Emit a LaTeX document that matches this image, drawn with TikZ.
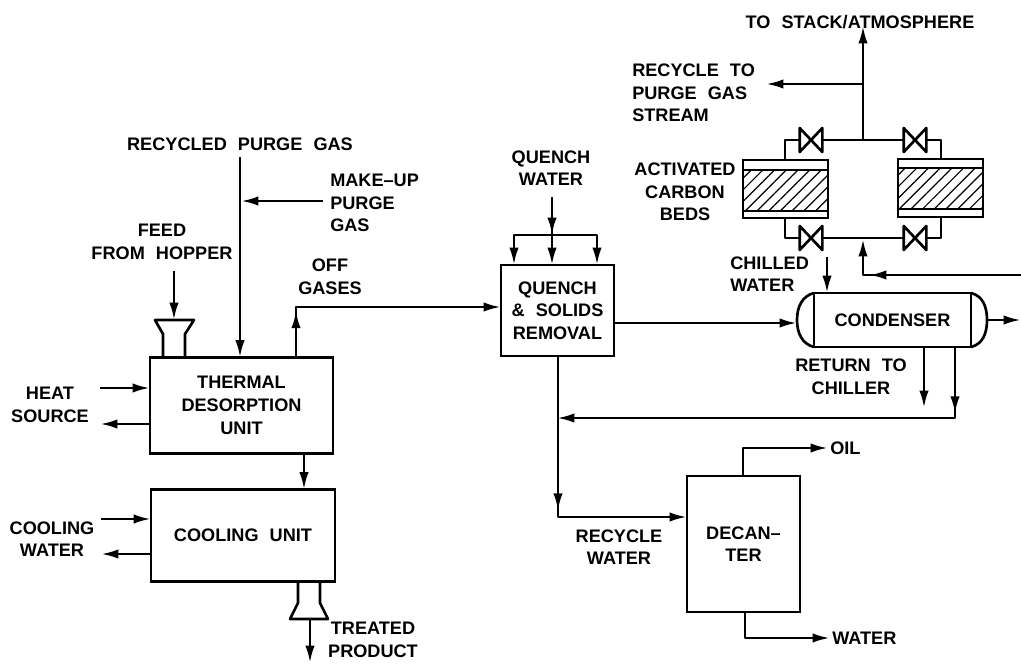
\documentclass[tikz,border=0pt]{standalone}
\usepackage{fontspec}
\setmainfont[WordSpace=2.2]{Liberation Sans}
\usetikzlibrary{arrows.meta,decorations.markings,patterns.meta,calc}
\tikzset{
  Hd/.tip={Latex[length=13pt,width=7pt]},
  pipe/.style={line width=2pt,line join=round},
  flow/.style={pipe,-{Hd}},
  hdat/.style={postaction={decorate,decoration={markings,mark=at position #1 with {\arrow{Hd}}}}},
  unit/.style n args={2}{draw,line width=2pt,inner sep=0pt,outer sep=0pt,minimum width=#1*0.75pt,minimum height=#2*0.75pt},
  valve/.style={inner sep=0pt,outer sep=0pt,minimum width=17pt,minimum height=18pt},
  hatch/.style={pattern={Lines[angle=45,distance=6.2pt,line width=0.9pt]}},
  lbl/.style={font=\fontsize{13.6}{17}\selectfont\bfseries,inner sep=0pt,align=center},
  lbll/.style={lbl,align=left,anchor=west},
}
\begin{document}
\begin{tikzpicture}[x=0.75pt,y=-0.75pt]
\useasboundingbox (0,0) rectangle (1021,664);
% process units
\node[unit={183}{96},lbl] (tdu) at (241.5,405.5) {THERMAL\\DESORPTION\\UNIT};
\node[unit={184}{92},lbl] (cool) at (243,535.5) {COOLING UNIT};
\node[unit={113}{91},lbl] (qsr) at (557.5,310.5) {QUENCH\\\& SOLIDS\\REMOVAL};
\node[unit={157}{54},lbl] (cond) at (892.5,320) {CONDENSER};
\node[unit={113}{136},lbl] (dec) at (743.5,544) {DECAN--\\TER};
\node[unit={85}{58}] (bedA) at (785.5,189) {};
\node[unit={85}{41},hatch] (bedAi) at (785.5,190.5) {};
\node[unit={85}{58}] (bedB) at (940.5,188) {};
\node[unit={85}{41},hatch] (bedBi) at (940.5,188.5) {};
\node[valve] (v1) at (811,140) {};
\node[valve] (v2) at (915,140) {};
\node[valve] (v3) at (811,238) {};
\node[valve] (v4) at (915,238) {};
\foreach \v in {v1,v2,v3,v4}
  \draw[pipe] (\v.north west)--(\v.south east)--(\v.north east)--(\v.south west)--cycle;
% condenser heads
\coordinate (lh) at (797,320);
\coordinate (rh) at (987,320);
\draw[pipe] (cond.north west) .. controls +(-12,3) and +(0,-13) .. (lh) .. controls +(0,13) and +(-12,-3) .. (cond.south west);
\draw[pipe] (cond.north east) .. controls +(12,3) and +(0,-13) .. (rh) .. controls +(0,13) and +(12,-3) .. (cond.south east);
% free ends
\coordinate (feedS) at (174,271);
\coordinate (rpgS) at (240,157);
\coordinate (muS) at (323,201);
\coordinate (muJ) at (241,201);
\coordinate (offC) at (296,307);
\coordinate (hiS) at (100,388);
\coordinate (hoE) at (100,424);
\coordinate (ciS) at (101,519);
\coordinate (coE) at (101,554);
\coordinate (tc) at (304,400);
\coordinate (qwS) at (552,197);
\coordinate (qwJ) at (552,235);
\coordinate (qwL) at (514,235);
\coordinate (qwR) at (597,235);
\coordinate (stackE) at (863,26);
\coordinate (stackJ) at (863,84);
\coordinate (rcE) at (766,84);
\coordinate (topJ) at (863,140);
\coordinate (botJ) at (863,239);
\coordinate (botC) at (863,275);
\coordinate (rightIn) at (1021,275);
\coordinate (chS) at (827,257);
\coordinate (rtE) at (924,408);
\coordinate (retC) at (955,418);
\coordinate (retE) at (557,418);
\coordinate (rwC) at (558,517);
\coordinate (oilC) at (743,448);
\coordinate (oilE) at (828,448);
\coordinate (watC) at (745,638);
\coordinate (watE) at (830,638);
\coordinate (condOut) at (1021,320);
% hopper
\coordinate (hopTL) at (155,320);
\coordinate (hopTR) at (194,320);
\draw[pipe] (163,357) -- (163,334) -- (hopTL) -- (hopTR) -- (185,334) -- (185,357);
% discharge
\coordinate (disL) at (290,619);
\coordinate (disR) at (328,619);
\coordinate (disC) at (310,619);
\draw[pipe] (298,581) -- (298,603) -- (disL) -- (disR) -- (320,603) -- (320,581);
\coordinate (prodE) at (310,663);
% connectors
\draw[flow] (feedS) -- (hopTL -| feedS);
\draw[flow] (rpgS) -- (rpgS |- tdu.north);
\draw[flow] (muS) -- (muJ);
\draw[flow,hdat=35pt] (offC |- tdu.north) -- (offC) -- (qsr.west |- offC);
\draw[flow] (hiS) -- (hiS -| tdu.west);
\draw[flow] (hoE -| tdu.west) -- (hoE);
\draw[flow] (tc |- tdu.south) -- (tc |- cool.north);
\draw[flow] (ciS) -- (ciS -| cool.west);
\draw[flow] (coE -| cool.west) -- (coE);
\draw[flow] (disC) -- (prodE);
\draw[flow,hdat=28.5pt] (qwS) -- (qwS |- qsr.north);
\draw[flow] (qwJ) -- (qwL) -- (qwL |- qsr.north);
\draw[flow] (qwJ) -- (qwR) -- (qwR |- qsr.north);
\draw[flow] (qsr.east |- cond.center) ++(0,3) -- (797,323);
\draw[flow] (chS) -- (chS |- cond.north);
\draw[flow] (rtE |- cond.south) -- (rtE);
\draw[flow,hdat=50pt] (retC |- cond.south) -- (retC) -- (retE);
\draw[flow,hdat=116pt] (rwC |- qsr.south) -- (rwC) -- (dec.west |- rwC);
\draw[flow] (oilC |- dec.north) -- (oilC) -- (oilE);
\draw[flow] (watC |- dec.south) -- (watC) -- (watE);
\draw[flow] (rh) -- (condOut);
% carbon bed piping
\draw[pipe] (v1.east) -- (v2.west);
\draw[pipe] (v3.east) -- (v4.west);
\draw[pipe] (v1.west) -| (785,160);
\draw[pipe] (v2.east) -| (941,159);
\draw[pipe] (v3.west) -| (785,218);
\draw[pipe] (v4.east) -| (941,217);
\draw[flow] (topJ) -- (stackE);
\draw[flow] (stackJ) -- (rcE);
\draw[flow,hdat=114pt] (rightIn) -- (botC) -- (botJ);
% labels
\node[lbl] (t1) at (860,22) {TO STACK/ATMOSPHERE};
\node[lbll] (t2) at (632,93) {RECYCLE TO\\PURGE GAS\\STREAM};
\node[lbl] (t3) at (685,192) {ACTIVATED\\CARBON\\BEDS};
\node[lbll] (t4) at (730,274) {CHILLED\\WATER};
\node[lbl] (t5) at (851,377) {RETURN TO\\CHILLER};
\node[lbl] (t6) at (551,168) {QUENCH\\WATER};
\node[lbl] (t7) at (240,144) {RECYCLED PURGE GAS};
\node[lbll] (t8) at (330,203) {MAKE--UP\\PURGE\\GAS};
\node[lbl] (t9) at (162,242) {FEED\\FROM HOPPER};
\node[lbl] (t10) at (330,277) {OFF\\GASES};
\node[lbl] (t11) at (50,405) {HEAT\\SOURCE};
\node[lbl] (t12) at (52,539) {COOLING\\WATER};
\node[lbl] (t13) at (373,640) {TREATED\\PRODUCT};
\node[lbl] (t14) at (619,547) {RECYCLE\\WATER};
\node[lbll] (t15) at (830,448) {OIL};
\node[lbll] (t16) at (832,638) {WATER};
\end{tikzpicture}
\end{document}
